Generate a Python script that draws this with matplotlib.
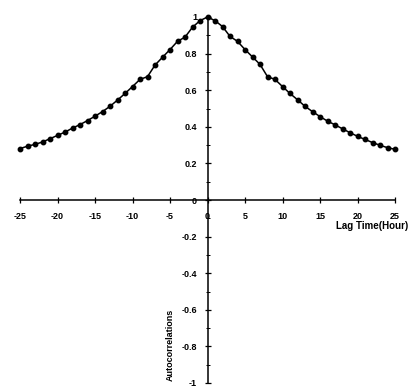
import numpy as np
import matplotlib
matplotlib.use('Agg')
import matplotlib.pyplot as plt
from matplotlib.ticker import MultipleLocator

# Autocorrelation of the hourly series, lags -25 .. 25 hours
lags = list(range(-25, 26))
acf = [0.281, 0.294, 0.304, 0.317, 0.335, 0.353, 0.371, 0.393, 0.412, 0.434,
       0.458, 0.483, 0.512, 0.546, 0.582, 0.620, 0.659, 0.674, 0.737, 0.780,
       0.822, 0.867, 0.890, 0.944, 0.980,
       1.000,
       0.980, 0.948, 0.894, 0.867, 0.822, 0.782, 0.741, 0.674, 0.659, 0.620,
       0.582, 0.548, 0.512, 0.483, 0.456, 0.431, 0.411, 0.389, 0.368, 0.348,
       0.331, 0.314, 0.299, 0.286, 0.277]

xticks = [-25, -20, -15, -10, -5, 0, 5, 10, 15, 20, 25]
xticklabels = ['-25', '-20', '-15', '-10', '-5', '0', '5', '10', '15', '20', '25']
yticks = [-1, -0.8, -0.6, -0.4, -0.2, 0, 0.2, 0.4, 0.6, 0.8, 1]
yticklabels = ['-1', '-0.8', '-0.6', '-0.4', '-0.2', '0', '0.2', '0.4', '0.6', '0.8', '1']

plt.rcParams['font.family'] = ['Liberation Sans', 'DejaVu Sans']
plt.rcParams['font.weight'] = 'bold'

fig = plt.figure(figsize=(4.09, 3.89), dpi=100)
ax = fig.add_axes([20 / 409, 6 / 389, 375 / 409, 366 / 389])

ax.plot(lags, acf, color='black', lw=1.1, marker='o', ms=3.2, clip_on=False)

ax.set_xlim(-25, 25)
ax.set_ylim(-1, 1)

# axes crossing at the origin
ax.spines['left'].set_position('zero')
ax.spines['bottom'].set_position('zero')
ax.spines['top'].set_visible(False)
ax.spines['right'].set_visible(False)
for s in ('left', 'bottom'):
    ax.spines[s].set_linewidth(1.1)

ax.set_xticks(xticks)
ax.set_xticklabels(xticklabels, fontsize=6.5, fontweight='bold')
ax.set_yticks(yticks)
ax.set_yticklabels(yticklabels, fontsize=6.5, fontweight='bold')
ax.yaxis.set_minor_locator(MultipleLocator(0.1))
ax.tick_params(axis='both', which='major', direction='inout', length=5, width=0.9)
ax.tick_params(axis='x', which='major', pad=6)
ax.tick_params(axis='y', which='major', pad=5)
ax.tick_params(axis='y', which='minor', direction='inout', length=3, width=0.7)

ax.text(26.8, -0.14, 'Lag Time(Hour)', ha='right', va='center',
        fontsize=7, fontweight='bold', clip_on=False)
ax.text(-4.9, -0.99, 'Autocorrelations', rotation=90, ha='center', va='bottom',
        fontsize=6.5, fontweight='bold', clip_on=False)

fig.savefig('out.png', dpi=100)
